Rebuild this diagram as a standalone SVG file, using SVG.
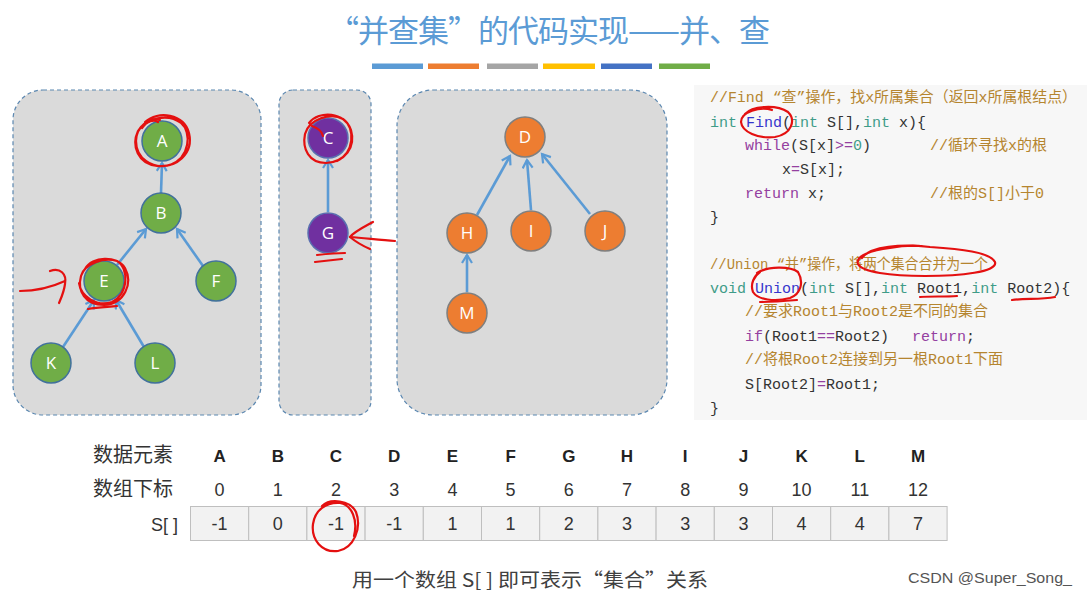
<svg xmlns="http://www.w3.org/2000/svg" width="1087" height="597" viewBox="0 0 1087 597">
<defs>
<marker id="arr" markerWidth="12" markerHeight="12" refX="9" refY="6" orient="auto" markerUnits="userSpaceOnUse">
<path d="M1,1 L9,6 L1,11" fill="none" stroke="#5b9bd5" stroke-width="2.2" stroke-linejoin="miter"/>
</marker>
<style>
.panel{fill:#dadada;stroke:#5b87b0;stroke-width:1.2;stroke-dasharray:4 3}
.edge{stroke:#5b9bd5;stroke-width:2.6;fill:none;marker-end:url(#arr)}
.g{fill:#70ad47;stroke:#41719c;stroke-width:1.5}
.p{fill:#7030a0;stroke:#5a6fb0;stroke-width:1.5}
.o{fill:#ed7d31;stroke:#7f7f7f;stroke-width:1.5}
.nt{font-family:"Open Sans","Liberation Sans",sans-serif;font-size:17px;fill:#fff;text-anchor:middle}
.code{font-family:"Liberation Mono","DejaVu Sans Mono","Noto Sans CJK SC",monospace;font-size:15px;fill:#333}
.cm{fill:#b5852f}
.kw{fill:#3f9c88}
.fn{fill:#3535cc}
.pk{fill:#9440a0}
.red{fill:none;stroke:#e41010;stroke-width:2.2;stroke-linecap:round;stroke-linejoin:round}
.lbl{font-family:"Noto Sans CJK SC","Liberation Sans",sans-serif;font-size:20px;fill:#333}
.hd{font-family:"Liberation Sans",sans-serif;font-size:17px;font-weight:bold;fill:#222;text-anchor:middle}
.num{font-family:"Liberation Sans",sans-serif;font-size:18px;fill:#333;text-anchor:middle}
.cell{fill:#f2f2f2;stroke:#bfbfbf;stroke-width:1}
</style>
</defs>
<rect width="1087" height="597" fill="#ffffff"/>

<!-- title -->
<g id="title">
<text x="549" y="42" text-anchor="middle" textLength="442" font-family="Noto Sans CJK SC, sans-serif" font-size="31" fill="#5b9bd5">“并查集”的代码实现——并、查</text>
<rect x="372" y="63.5" width="51" height="5.5" fill="#5b9bd5"/>
<rect x="428" y="63.5" width="51" height="5.5" fill="#ed7d31"/>
<rect x="487" y="63.5" width="51" height="5.5" fill="#a5a5a5"/>
<rect x="543" y="63.5" width="52" height="5.5" fill="#ffc000"/>
<rect x="601" y="63.5" width="51" height="5.5" fill="#4472c4"/>
<rect x="659" y="63.5" width="51" height="5.5" fill="#70ad47"/>
</g>

<!-- panels -->
<g id="panels">
<rect class="panel" x="13" y="90" width="248" height="325" rx="30" ry="30"/>
<rect class="panel" x="279" y="90" width="92" height="325" rx="14" ry="14"/>
<rect class="panel" x="397" y="90" width="270" height="325" rx="36" ry="36"/>
</g>

<!-- connectors -->
<g id="connectors">
<line class="edge" x1="161" y1="193" x2="162" y2="163"/>
<line class="edge" x1="117" y1="265" x2="146" y2="229"/>
<line class="edge" x1="203" y1="266" x2="177" y2="229"/>
<line class="edge" x1="63" y1="347" x2="94" y2="300"/>
<line class="edge" x1="144" y1="347" x2="116" y2="300"/>
<line class="edge" x1="328" y1="212" x2="328" y2="160"/>
<line class="edge" x1="477" y1="215" x2="510" y2="156"/>
<line class="edge" x1="531" y1="210" x2="527" y2="160"/>
<line class="edge" x1="590" y1="214" x2="542" y2="154"/>
<line class="edge" x1="467" y1="292" x2="467" y2="255"/>
</g>

<!-- nodes -->
<g id="node-A"><circle class="g" cx="162" cy="141" r="20"/><text class="nt" x="162" y="147">A</text></g>
<g id="node-B"><circle class="g" cx="161" cy="213" r="20"/><text class="nt" x="161" y="219">B</text></g>
<g id="node-E"><circle class="g" cx="104" cy="281" r="20"/><text class="nt" x="104" y="287">E</text></g>
<g id="node-F"><circle class="g" cx="216" cy="281" r="20"/><text class="nt" x="216" y="287">F</text></g>
<g id="node-K"><circle class="g" cx="51" cy="363" r="20"/><text class="nt" x="51" y="369">K</text></g>
<g id="node-L"><circle class="g" cx="155" cy="363" r="20"/><text class="nt" x="155" y="369">L</text></g>
<g id="node-C"><circle class="p" cx="328" cy="138" r="20"/><text class="nt" x="328" y="144">C</text></g>
<g id="node-G"><circle class="p" cx="328" cy="233" r="20"/><text class="nt" x="328" y="239">G</text></g>
<g id="node-D"><circle class="o" cx="525" cy="137" r="20"/><text class="nt" x="525" y="143">D</text></g>
<g id="node-H"><circle class="o" cx="467" cy="233" r="20"/><text class="nt" x="467" y="239">H</text></g>
<g id="node-I"><circle class="o" cx="531" cy="231" r="20"/><text class="nt" x="531" y="237">I</text></g>
<g id="node-J"><circle class="o" cx="605" cy="231" r="20"/><text class="nt" x="605" y="237">J</text></g>
<g id="node-M"><circle class="o" cx="467" cy="313" r="20"/><text class="nt" x="467" y="319">M</text></g>

<!-- code -->
<g id="code">
<rect x="694" y="85" width="393" height="335" fill="#f7f7f7"/>
<text class="code" x="710" y="102" textLength="367" lengthAdjust="spacingAndGlyphs"><tspan class="cm">//Find “查”操作，找x所属集合（返回x所属根结点）</tspan></text>
<text class="code" x="710" y="127"><tspan class="kw">int</tspan> <tspan class="fn">Find</tspan>(<tspan class="kw">int</tspan> S[],<tspan class="kw">int</tspan> x){</text>
<text class="code" x="745" y="150"><tspan class="pk">while</tspan>(S[x]<tspan class="pk">&gt;=</tspan><tspan class="kw">0</tspan>)</text>
<text class="code" x="930" y="150"><tspan class="cm">//循环寻找x的根</tspan></text>
<text class="code" x="782" y="174">x<tspan class="pk">=</tspan>S[x];</text>
<text class="code" x="745" y="198"><tspan class="pk">return</tspan> x;</text>
<text class="code" x="930" y="198"><tspan class="cm">//根的S[]小于0</tspan></text>
<text class="code" x="710" y="222">}</text>
<text class="code" x="710" y="269" textLength="278" lengthAdjust="spacingAndGlyphs"><tspan class="cm">//Union “并”操作，将两个集合合并为一个</tspan></text>
<text class="code" x="710" y="293"><tspan class="kw">void</tspan> <tspan class="fn">Union</tspan>(<tspan class="kw">int</tspan> S[],<tspan class="kw">int</tspan> Root1,<tspan class="kw">int</tspan> Root2){</text>
<text class="code" x="745" y="316"><tspan class="cm">//要求Root1与Root2是不同的集合</tspan></text>
<text class="code" x="745" y="341"><tspan class="pk">if</tspan>(Root1<tspan class="pk">==</tspan>Root2)<tspan class="pk" x="912">return</tspan>;</text>
<text class="code" x="745" y="364"><tspan class="cm">//将根Root2连接到另一根Root1下面</tspan></text>
<text class="code" x="745" y="389">S[Root2]<tspan class="pk">=</tspan>Root1;</text>
<text class="code" x="710" y="413">}</text>
</g>

<!-- table -->
<g id="table">
<text class="lbl" x="93" y="462">数据元素</text>
<text class="lbl" x="93" y="496">数组下标</text>
<text class="num" x="178" y="531" style="text-anchor:end">S[ ]</text>
<g id="cells">
<rect class="cell" x="190.5" y="506.5" width="58.2" height="34"/>
<rect class="cell" x="248.7" y="506.5" width="58.2" height="34"/>
<rect class="cell" x="306.9" y="506.5" width="58.2" height="34"/>
<rect class="cell" x="365.1" y="506.5" width="58.2" height="34"/>
<rect class="cell" x="423.3" y="506.5" width="58.2" height="34"/>
<rect class="cell" x="481.5" y="506.5" width="58.2" height="34"/>
<rect class="cell" x="539.7" y="506.5" width="58.2" height="34"/>
<rect class="cell" x="597.9" y="506.5" width="58.2" height="34"/>
<rect class="cell" x="656.1" y="506.5" width="58.2" height="34"/>
<rect class="cell" x="714.3" y="506.5" width="58.2" height="34"/>
<rect class="cell" x="772.5" y="506.5" width="58.2" height="34"/>
<rect class="cell" x="830.7" y="506.5" width="58.2" height="34"/>
<rect class="cell" x="888.9" y="506.5" width="58.2" height="34"/>
</g>
<g id="heads">
<text class="hd" x="219.6" y="462">A</text><text class="hd" x="277.8" y="462">B</text><text class="hd" x="336" y="462">C</text><text class="hd" x="394.2" y="462">D</text><text class="hd" x="452.4" y="462">E</text><text class="hd" x="510.6" y="462">F</text><text class="hd" x="568.8" y="462">G</text><text class="hd" x="627" y="462">H</text><text class="hd" x="685.2" y="462">I</text><text class="hd" x="743.4" y="462">J</text><text class="hd" x="801.6" y="462">K</text><text class="hd" x="859.8" y="462">L</text><text class="hd" x="918" y="462">M</text>
</g>
<g id="idx">
<text class="num" x="219.6" y="496">0</text><text class="num" x="277.8" y="496">1</text><text class="num" x="336" y="496">2</text><text class="num" x="394.2" y="496">3</text><text class="num" x="452.4" y="496">4</text><text class="num" x="510.6" y="496">5</text><text class="num" x="568.8" y="496">6</text><text class="num" x="627" y="496">7</text><text class="num" x="685.2" y="496">8</text><text class="num" x="743.4" y="496">9</text><text class="num" x="801.6" y="496">10</text><text class="num" x="859.8" y="496">11</text><text class="num" x="918" y="496">12</text>
</g>
<g id="vals">
<text class="num" x="219.6" y="530">-1</text><text class="num" x="277.8" y="530">0</text><text class="num" x="336" y="530">-1</text><text class="num" x="394.2" y="530">-1</text><text class="num" x="452.4" y="530">1</text><text class="num" x="510.6" y="530">1</text><text class="num" x="568.8" y="530">2</text><text class="num" x="627" y="530">3</text><text class="num" x="685.2" y="530">3</text><text class="num" x="743.4" y="530">3</text><text class="num" x="801.6" y="530">4</text><text class="num" x="859.8" y="530">4</text><text class="num" x="918" y="530">7</text>
</g>
</g>

<text x="352" y="587" textLength="356" lengthAdjust="spacingAndGlyphs" font-family="Noto Sans CJK SC, sans-serif" font-size="19" fill="#404040">用一个数组 S[ ] 即可表示“集合”关系</text>
<text x="908" y="583" textLength="164" lengthAdjust="spacingAndGlyphs" font-family="Liberation Sans, sans-serif" font-size="14" fill="#555">CSDN @Super_Song_</text>

<!-- red handwritten annotations -->
<g id="annotations">
<path class="red" d="M145,122 C158,110 184,114 189,133 C194,154 176,168 157,166 C138,164 131,146 138,131 C146,118 168,113 181,123 C192,132 190,158 170,165 C152,170 136,158 136,141 C136,127 149,117 160,120"/>
<path class="red" d="M142,128 C147,121 154,119 158,122"/>
<path class="red" d="M85,269 C92,256 117,255 125,268 C133,283 125,304 104,305 C85,305 77,291 81,276 C85,263 104,257 117,261 C129,268 129,293 112,302 C97,307 81,297 79,283"/>
<path class="red" d="M88,309 C98,307 108,307 117,306"/>
<path class="red" d="M20,291 C36,291 52,287 65,281"/>
<path class="red" d="M50,271 C60,267 67,274 65,284 C64,292 62,296 59,303"/>
<path class="red" d="M309,123 C319,110 345,112 351,130 C356,147 345,162 326,163 C309,163 302,149 305,134 C309,119 331,112 343,119 C356,128 354,153 337,161"/>
<path class="red" d="M312,126 C318,128 322,132 323,136"/>
<path class="red" d="M395,241 C380,240 364,238 350,237"/>
<path class="red" d="M373,222 C362,228 354,232 350,237 C356,242 363,246 370,249"/>
<path class="red" d="M317,255 C326,254 336,253 345,253"/>
<path class="red" d="M315,262 C324,261 333,260 342,259"/>
<path class="red" d="M745,114 C752,106 776,104 788,112 C796,120 792,134 775,137 C758,139 742,132 741,122 C741,112 760,106 772,110"/>
<path class="red" d="M862,258 C870,246 902,244 930,247 C960,249 990,252 995,262 C998,272 960,276 925,276 C890,276 862,272 858,264 C855,256 872,250 890,248 C900,246 912,245 922,246 L903,246"/>
<path class="red" d="M757,273 C768,266 790,266 798,272 C804,282 801,294 790,298 C775,302 758,300 753,292 C750,284 754,276 760,272"/>
<path class="red" d="M760,302 C772,302 785,301 797,300"/>
<path class="red" d="M920,297 C932,296 944,297 957,296"/>
<path class="red" d="M1012,300 C1025,298 1040,300 1055,297"/>
<path class="red" d="M322,506 C330,498 350,500 356,512 C362,528 354,548 338,551 C322,553 311,540 313,524 C315,510 326,502 340,503 C352,505 358,520 354,536"/>
</g>
</svg>
